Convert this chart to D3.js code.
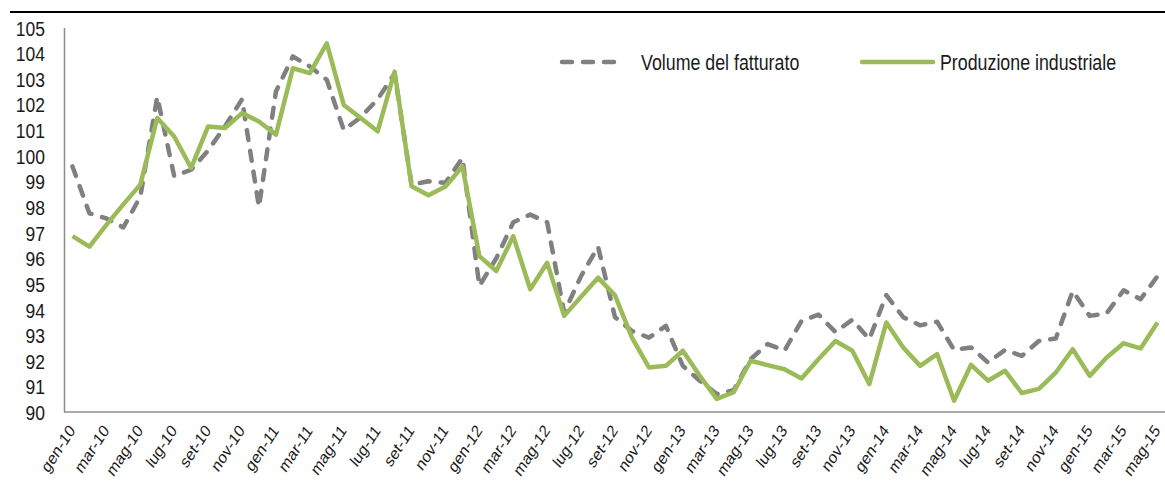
<!DOCTYPE html>
<html>
<head>
<meta charset="utf-8">
<script src="https://d3js.org/d3.v7.min.js"></script>
<style>
    body { margin: 0; background: #fff; }
    text { font-family: "Liberation Sans", Arial, sans-serif; fill: #1a1a1a; }
</style>
</head>
<body>
<svg id="chart" width="1165" height="482"></svg>
<script>
// etichette dei mesi e anni (asse x)
const mesi = ["gen", "feb", "mar", "apr", "mag", "giu", "lug", "ago", "set", "ott", "nov", "dic"];
const anni = ["10", "11", "12", "13", "14", "15"];
// da gen-10 a mag-15
const categorie = [];
anni.forEach(a => mesi.forEach(m => categorie.push(m + "-" + a)));
categorie.splice(65);

// tacche asse y
const yTicks = [90, 91, 92, 93, 94, 95, 96, 97, 98, 99, 100, 101, 102, 103, 104, 105];

// serie: volume del fatturato (tratteggiata grigia)
const volumeFatturato = [
    99.58, 97.75, 97.55, 97.2, 98.4, 102.3, 99.2, 99.45, 100.2, 101.15, 102.2, 98.0,
    102.5, 103.87, 103.48, 102.96, 101.0, 101.5, 102.2, 103.2, 98.87, 99.0, 98.94, 99.91,
    94.92, 96.0, 97.4, 97.7, 97.4, 93.88, 95.3, 96.45, 93.7, 93.16, 92.9, 93.36,
    91.8, 91.22, 90.7, 90.85, 92.06, 92.65, 92.4, 93.55, 93.8, 93.12, 93.6, 92.84,
    94.56, 93.7, 93.38, 93.52, 92.42, 92.52, 91.93, 92.42, 92.19, 92.77, 92.87, 94.72,
    93.75, 93.85, 94.75, 94.4, 95.3
];
// serie: produzione industriale (verde)
const produzioneIndustriale = [
    96.86, 96.45, 97.3, 98.1, 98.87, 101.47, 100.75, 99.52, 101.14, 101.08, 101.66, 101.33,
    100.82, 103.41, 103.22, 104.38, 101.98, 101.47, 100.95, 103.28, 98.81, 98.46, 98.8, 99.58,
    96.08, 95.5, 96.86, 94.79, 95.82, 93.75, 94.5, 95.24, 94.55, 92.9, 91.74, 91.8,
    92.39, 91.41, 90.51, 90.77, 92.0, 91.83, 91.67, 91.31, 92.06, 92.77, 92.39, 91.09,
    93.49, 92.52, 91.8, 92.26, 90.44, 91.84, 91.22, 91.61, 90.74, 90.9, 91.54, 92.45,
    91.41, 92.13, 92.68, 92.48, 93.49
];

const serie = [
    {nome: "Volume del fatturato", valori: volumeFatturato, colore: "#808080", dash: "10,11"},
    {nome: "Produzione industriale", valori: produzioneIndustriale, colore: "#9bbb59", dash: null}
];

const svg = d3.select("#chart");

// area del grafico
const area = {left: 64, right: 1166, top: 27.5, bottom: 412};
// il testo originale e' allungato in verticale
const allunga = "scale(1,1.2)";

const x = d3.scalePoint()
    .domain(categorie)
    .range([area.left, area.right])
    .padding(0.5);
const y = d3.scaleLinear()
    .domain([90, 105])
    .range([area.bottom, area.top]);

// linea nera in alto
svg.append("line")
    .attr("x1", 10).attr("x2", 1165)
    .attr("y1", 12).attr("y2", 12)
    .attr("stroke", "#000")
    .attr("stroke-width", 2);

// asse y
const yAxis = svg.append("g")
    .attr("transform", "translate(" + area.left + ",0)")
    .call(d3.axisLeft(y).tickValues(yTicks).tickSize(0).tickPadding(19));
yAxis.select(".domain").attr("stroke", "#8c8c8c").attr("stroke-width", 1.5);
yAxis.selectAll("text")
    .style("font-size", "17.5px")
    .attr("dy", "0.36em")
    .attr("transform", allunga);

// asse x, etichette ogni due mesi
const xAxis = svg.append("g")
    .attr("transform", "translate(0," + area.bottom + ")")
    .call(d3.axisBottom(x)
        .tickValues(categorie.filter((d, i) => i % 2 === 0))
        .tickSize(0)
        .tickSizeOuter(0));
xAxis.select(".domain")
    .attr("d", "M" + area.left + ",0H" + area.right)
    .attr("stroke", "#8c8c8c").attr("stroke-width", 1.5);
xAxis.selectAll("text")
    .style("font-size", "14.5px")
    .attr("text-anchor", "end")
    .attr("dy", 0)
    .attr("y", 0)
    .attr("transform", "translate(3,19) " + allunga + " rotate(-52)");

// linee delle serie
const linea = d3.line()
    .x((d, i) => x(categorie[i]))
    .y(d => y(d));

svg.selectAll(".serie")
    .data(serie)
    .enter()
    .append("path")
    .attr("class", "serie")
    .attr("fill", "none")
    .attr("stroke", d => d.colore)
    .attr("stroke-width", 4.5)
    .attr("stroke-linejoin", "round")
    .attr("stroke-linecap", d => d.dash ? "round" : "butt")
    .attr("stroke-dasharray", d => d.dash)
    .attr("d", d => linea(d.valori));

// legenda
const legenda = [
    {x1: 562, x2: 617, tx: 641},
    {x1: 862, x2: 933, tx: 940}
];
const leg = svg.selectAll(".legenda")
    .data(serie)
    .enter()
    .append("g")
    .attr("class", "legenda");
leg.append("line")
    .attr("x1", (d, i) => legenda[i].x1)
    .attr("x2", (d, i) => legenda[i].x2)
    .attr("y1", 62).attr("y2", 62)
    .attr("stroke", d => d.colore)
    .attr("stroke-width", 4.5)
    .attr("stroke-linecap", "round")
    .attr("stroke-dasharray", d => d.dash);
leg.append("text")
    .attr("transform", (d, i) => "translate(" + legenda[i].tx + ",62) " + allunga)
    .attr("dy", "0.36em")
    .style("font-size", "17.8px")
    .text(d => d.nome);
</script>
</body>
</html>
